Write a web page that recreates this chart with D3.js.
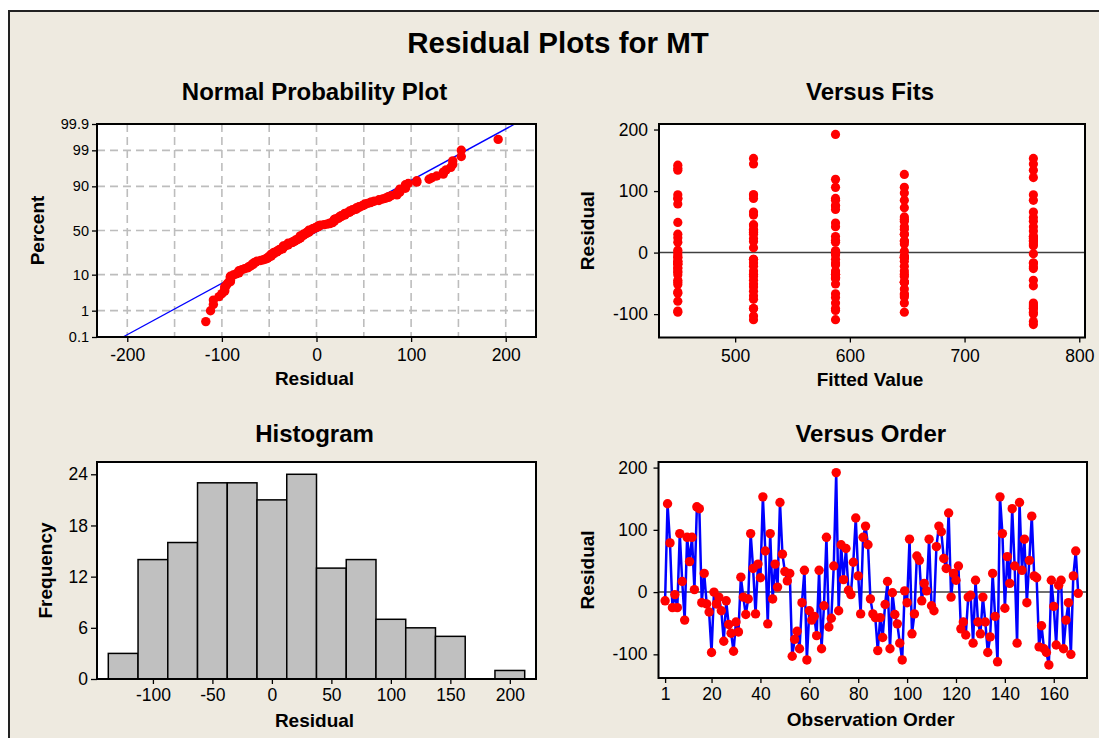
<!DOCTYPE html>
<html>
<head>
<meta charset="utf-8">
<script src="https://cdn.jsdelivr.net/npm/d3@7"></script>
<style>
  body { margin: 0; background: #fff; }
  svg text { font-family: "Liberation Sans", Arial, sans-serif; fill: #000; }
  .tick line, .domain { stroke: #000; }
</style>
</head>
<body>
<svg id="chart" width="1099" height="738"></svg>
<script>
// Residuals in observation order
var residuals = [
    -14, 142, 79, -25, -4, -25, 94, 17, -45, 88, 49, 88, 4, 137, 134, -17, 30,
    -19, -32, -97, 0, -19, -8, -30, -79, -14, -52, -66, -95, -48, -64, 24, -8, -36,
    -11, 94, 38, -35, 45, 23, 153, 66, -51, 94, -11, 45, 8, 144, 61, 33, 18,
    30, -103, -76, -63, -91, -17, 35, -109, -30, -45, -39, -70, 35, -91, -22, 88, -56,
    -42, 42, 192, -30, 76, 20, 70, 3, -4, 48, 119, 26, -35, 88, 106, 76, -11,
    -35, -41, -94, -41, -73, -20, 17, -91, -1, -36, -51, -82, -109, 2, -17, 85, -67,
    -35, 58, 51, -14, 14, 2, 85, -22, -30, 73, 106, 97, 54, 38, 127, -8, 30,
    19, 42, -59, -48, -69, -8, -5, -82, 19, -48, -67, -8, -48, -97, -72, 30, -39,
    -112, 153, 94, -26, 57, 14, 134, 42, -82, 144, 35, 85, -17, 51, 122, 26, 23,
    -88, -54, -91, -97, -117, 19, -23, -85, 11, 19, -91, -45, -17, -100, 26, 66, -2
];

// Fitted values: five treatment levels, observations in blocks of 34
var fitLevels = [450, 516, 587.5, 647.5, 760];
var levelSize = 34;

// Histogram of residuals (bin midpoints, frequencies)
var histMids = [-125, -100, -75, -50, -25, 0, 25, 50, 75, 100, 125, 150, 175, 200];
var histCounts = [3, 14, 16, 23, 23, 21, 24, 13, 14, 7, 6, 5, 0, 1];

// Tick values
var percentTicks = [0.1, 1, 10, 50, 90, 99, 99.9];
var percentGrid = [1, 10, 50, 90, 99];
var nppXTicks = [-200, -100, 0, 100, 200];
var nppXGrid = [-200, -150, -100, -50, 0, 50, 100, 150, 200];
var residualTicks = [-100, 0, 100, 200];
var fitTicks = [500, 600, 700, 800];
var freqTicks = [0, 6, 12, 18, 24];
var histXTicks = [-100, -50, 0, 50, 100, 150, 200];
var orderTicks = [1, 20, 40, 60, 80, 100, 120, 140, 160];

var svg = d3.select("#chart");
var BG = "#EEEAE0";
var DOT = "#FF0000";
var LINE = "#0000FF";

var fitted = residuals.map(function(r, i) {
    return fitLevels[Math.floor(i / levelSize)];
});

// Inverse standard normal CDF (Acklam)
function qnorm(p) {
    var a = [-39.69683028665376, 220.9460984245205, -275.9285104469687, 138.3577518672690, -30.66479806614716, 2.506628277459239];
    var b = [-54.47609879822406, 161.5858368580409, -155.6989798598866, 66.80131188771972, -13.28068155288572];
    var c = [-0.007784894002430293, -0.3223964580411365, -2.400758277161838, -2.549732539343734, 4.374664141464968, 2.938163982698783];
    var d = [0.007784695709041462, 0.3224671290700398, 2.445134137142996, 3.754408661907416];
    var plow = 0.02425, q, r;
    if (p < plow) {
        q = Math.sqrt(-2 * Math.log(p));
        return (((((c[0] * q + c[1]) * q + c[2]) * q + c[3]) * q + c[4]) * q + c[5]) /
            ((((d[0] * q + d[1]) * q + d[2]) * q + d[3]) * q + 1);
    }
    if (p > 1 - plow) {
        return -qnorm(1 - p);
    }
    q = p - 0.5;
    r = q * q;
    return (((((a[0] * r + a[1]) * r + a[2]) * r + a[3]) * r + a[4]) * r + a[5]) * q /
        (((((b[0] * r + b[1]) * r + b[2]) * r + b[3]) * r + b[4]) * r + 1);
}

function fmt(v) {
    return String(v);
}

// Outer frame
svg.append("rect").attr("width", 1099).attr("height", 738).attr("fill", "#fff");
svg.append("rect")
    .attr("x", 9).attr("y", 11)
    .attr("width", 1200).attr("height", 800)
    .attr("fill", BG)
    .attr("stroke", "#222")
    .attr("stroke-width", 2);

svg.append("text")
    .attr("x", 558).attr("y", 53)
    .attr("text-anchor", "middle")
    .style("font-size", "29.5px").style("font-weight", "bold")
    .text("Residual Plots for MT");

/**
 * Common panel scaffolding: white box, subtitle, axis titles.
 */
function panel(box, title, xTitle, yTitle, yTitleX, titleY) {
    var g = svg.append("g");
    g.append("rect")
        .attr("x", box.x0).attr("y", box.y0)
        .attr("width", box.x1 - box.x0).attr("height", box.y1 - box.y0)
        .attr("fill", "#fff");
    var cx = (box.x0 + box.x1) / 2 - 2;
    var cy = (box.y0 + box.y1) / 2;
    g.append("text")
        .attr("x", cx).attr("y", titleY)
        .attr("text-anchor", "middle")
        .style("font-size", "24px").style("font-weight", "bold")
        .text(title);
    g.append("text")
        .attr("x", cx).attr("y", box.y1 + 48)
        .attr("text-anchor", "middle")
        .style("font-size", "19px").style("font-weight", "bold")
        .text(xTitle);
    g.append("text")
        .attr("transform", "translate(" + yTitleX + "," + cy + ") rotate(-90)")
        .attr("text-anchor", "middle")
        .style("font-size", "19px").style("font-weight", "bold")
        .text(yTitle);
    return g;
}

function frameBox(g, box) {
    g.append("rect")
        .attr("x", box.x0).attr("y", box.y0)
        .attr("width", box.x1 - box.x0).attr("height", box.y1 - box.y0)
        .attr("fill", "none")
        .attr("stroke", "#000")
        .attr("stroke-width", 2);
}

function styleAxis(sel, size) {
    sel.select(".domain").remove();
    sel.selectAll(".tick line").attr("stroke-width", 1.3);
    sel.selectAll("text").style("font-size", size + "px").attr("fill", "#000");
}

function drawNormalPlot() {
    var box = { x0: 97, y0: 124, x1: 536, y1: 337 };
    var g = panel(box, "Normal Probability Plot", "Residual", "Percent", 43.5, 100);

    var x = d3.scaleLinear().domain([-232, 232]).range([box.x0, box.x1]);
    var y = d3.scaleLinear().domain([qnorm(0.001), qnorm(0.999)]).range([box.y1, box.y0]);

    // dashed grid
    g.selectAll(".vgrid").data(nppXGrid).enter().append("line")
        .attr("x1", function(d) { return x(d); }).attr("x2", function(d) { return x(d); })
        .attr("y1", box.y0).attr("y2", box.y1)
        .attr("stroke", "#BDBDBD").attr("stroke-width", 1.6).attr("stroke-dasharray", "8,5");
    g.selectAll(".hgrid").data(percentGrid).enter().append("line")
        .attr("x1", box.x0).attr("x2", box.x1)
        .attr("y1", function(d) { return y(qnorm(d / 100)); })
        .attr("y2", function(d) { return y(qnorm(d / 100)); })
        .attr("stroke", "#BDBDBD").attr("stroke-width", 1.6).attr("stroke-dasharray", "8,5");

    // fitted normal line from mean and sd of the residuals
    var m = d3.mean(residuals), s = d3.deviation(residuals);
    var zLo = qnorm(0.001), zHi = qnorm(0.999);
    g.append("line")
        .attr("x1", x(m + zLo * s)).attr("y1", y(zLo))
        .attr("x2", x(m + zHi * s)).attr("y2", y(zHi))
        .attr("stroke", LINE).attr("stroke-width", 1.4);

    var sorted = residuals.slice().sort(d3.ascending);
    var n = sorted.length;
    g.selectAll(".pt").data(sorted).enter().append("circle")
        .attr("cx", function(d) { return x(d); })
        .attr("cy", function(d, i) { return y(qnorm((i + 1 - 0.3) / (n + 0.4))); })
        .attr("r", 4.7)
        .attr("fill", DOT);

    frameBox(g, box);

    var ax = g.append("g").attr("transform", "translate(0," + box.y1 + ")")
        .call(d3.axisBottom(x).tickValues(nppXTicks).tickFormat(fmt).tickSize(5).tickPadding(7));
    styleAxis(ax, 17.5);
    var ay = g.append("g").attr("transform", "translate(" + box.x0 + ",0)")
        .call(d3.axisLeft(y).tickValues(percentTicks.map(function(p) { return qnorm(p / 100); }))
            .tickFormat(function(d, i) { return fmt(percentTicks[i]); })
            .tickSize(5).tickPadding(3));
    styleAxis(ay, 14.5);
}

function drawFitsPlot() {
    var box = { x0: 659, y0: 124, x1: 1085, y1: 337.5 };
    var g = panel(box, "Versus Fits", "Fitted Value", "Residual", 594, 100);

    var x = d3.scaleLinear().domain([433.6, 805]).range([box.x0, box.x1]);
    var y = d3.scaleLinear().domain([-138, 209]).range([box.y1, box.y0]);

    g.append("line")
        .attr("x1", box.x0).attr("x2", box.x1)
        .attr("y1", y(0)).attr("y2", y(0))
        .attr("stroke", "#404040").attr("stroke-width", 1.5);

    g.selectAll(".pt").data(residuals).enter().append("circle")
        .attr("cx", function(d, i) { return x(fitted[i]); })
        .attr("cy", function(d) { return y(d); })
        .attr("r", 4.6)
        .attr("fill", DOT);

    frameBox(g, box);

    var ax = g.append("g").attr("transform", "translate(0," + box.y1 + ")")
        .call(d3.axisBottom(x).tickValues(fitTicks).tickFormat(fmt).tickSize(5).tickPadding(7));
    styleAxis(ax, 17.5);
    var ay = g.append("g").attr("transform", "translate(" + box.x0 + ",0)")
        .call(d3.axisLeft(y).tickValues(residualTicks).tickFormat(fmt).tickSize(5).tickPadding(6));
    styleAxis(ay, 17.5);
}

function drawHistogram() {
    var box = { x0: 97, y0: 462, x1: 536, y1: 679 };
    var g = panel(box, "Histogram", "Residual", "Frequency", 52, 442);

    var x = d3.scaleLinear().domain([-147, 222]).range([box.x0, box.x1]);
    var y = d3.scaleLinear().domain([0, 25.44]).range([box.y1, box.y0]);
    var half = (histMids[1] - histMids[0]) / 2;

    g.selectAll(".bar").data(histCounts).enter().append("rect")
        .attr("x", function(d, i) { return x(histMids[i] - half); })
        .attr("width", function(d, i) { return x(histMids[i] + half) - x(histMids[i] - half); })
        .attr("y", function(d) { return y(d); })
        .attr("height", function(d) { return y(0) - y(d); })
        .attr("fill", "#C0C0C0")
        .attr("stroke", "#000")
        .attr("stroke-width", 1.5);

    frameBox(g, box);

    var ax = g.append("g").attr("transform", "translate(0," + box.y1 + ")")
        .call(d3.axisBottom(x).tickValues(histXTicks).tickFormat(fmt).tickSize(5).tickPadding(5));
    styleAxis(ax, 17.5);
    var ay = g.append("g").attr("transform", "translate(" + box.x0 + ",0)")
        .call(d3.axisLeft(y).tickValues(freqTicks).tickFormat(fmt).tickSize(6).tickPadding(3));
    styleAxis(ay, 17.5);
}

function drawOrderPlot() {
    var box = { x0: 658.5, y0: 462, x1: 1087, y1: 678 };
    var g = panel(box, "Versus Order", "Observation Order", "Residual", 594, 442);

    var x = d3.scaleLinear().domain([-1.7, 173.6]).range([box.x0, box.x1]);
    var y = d3.scaleLinear().domain([-138, 209]).range([box.y1, box.y0]);

    g.append("line")
        .attr("x1", box.x0).attr("x2", box.x1)
        .attr("y1", y(0)).attr("y2", y(0))
        .attr("stroke", "#404040").attr("stroke-width", 1.5);

    var line = d3.line()
        .x(function(d, i) { return x(i + 1); })
        .y(function(d) { return y(d); });
    g.append("path")
        .datum(residuals)
        .attr("d", line)
        .attr("fill", "none")
        .attr("stroke", LINE)
        .attr("stroke-width", 2.5);

    g.selectAll(".pt").data(residuals).enter().append("circle")
        .attr("cx", function(d, i) { return x(i + 1); })
        .attr("cy", function(d) { return y(d); })
        .attr("r", 4.7)
        .attr("fill", DOT);

    frameBox(g, box);

    var ax = g.append("g").attr("transform", "translate(0," + box.y1 + ")")
        .call(d3.axisBottom(x).tickValues(orderTicks).tickFormat(fmt).tickSize(5).tickPadding(5));
    styleAxis(ax, 17.5);
    var ay = g.append("g").attr("transform", "translate(" + box.x0 + ",0)")
        .call(d3.axisLeft(y).tickValues(residualTicks).tickFormat(fmt).tickSize(5).tickPadding(6));
    styleAxis(ay, 17.5);
}

drawNormalPlot();
drawFitsPlot();
drawHistogram();
drawOrderPlot();
</script>
</body>
</html>
